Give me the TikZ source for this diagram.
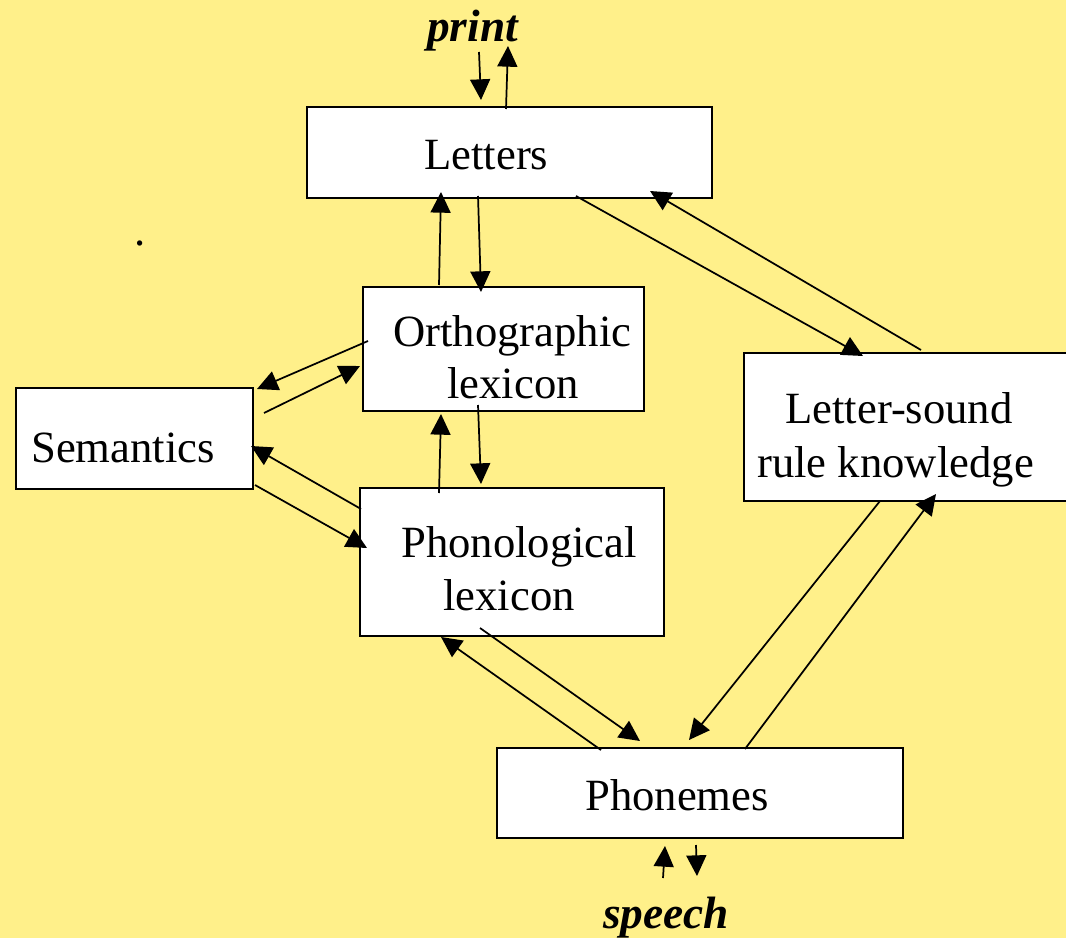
\documentclass[tikz,border=0pt]{standalone}
\usepackage{fontspec}
\setmainfont{Liberation Serif}
\usetikzlibrary{arrows.meta}
\definecolor{paper}{HTML}{FFF08A}
\tikzstyle{arr}=[-{Triangle[length=15.5pt,width=15pt]},line width=1.3pt]
\tikzstyle{box}=[draw,fill=white,line width=1.5pt,inner sep=0pt]
\tikzstyle{txt}=[anchor=base west,inner sep=0pt,font=\fontsize{33.5}{40}\selectfont]
\tikzstyle{io}=[anchor=base west,inner sep=0pt,font=\fontsize{34}{40}\selectfont\bfseries\itshape]

\begin{document}
\begin{tikzpicture}[x=0.75pt,y=-0.75pt]
  \useasboundingbox (0,0) rectangle (1066,938);
  \clip (0,0) rectangle (1066,938);
  \fill[paper] (0,0) rectangle (1066,938);

  % boxes
  \node[box,minimum width=303.75pt,minimum height=68.25pt] (letters) at (509.5,152.5) {};
  \node[box,minimum width=210.75pt,minimum height=93pt] (orth) at (503.5,349) {};
  \node[box,minimum width=177.75pt,minimum height=75.75pt] (sem) at (134.5,438.5) {};
  \node[box,minimum width=228pt,minimum height=111pt] (phon) at (512,562) {};
  \node[box,minimum width=255.75pt,minimum height=111pt] (lsr) at (914.5,427) {};
  \node[box,minimum width=304.5pt,minimum height=67.5pt] (phonemes) at (700,793) {};

  % texts
  \node[txt] (letterstxt) at (424,170) {Letters};
  \node[txt] (orthtop) at (393,346) {Orthographic};
  \node[txt] (orthbot) at (447,398) {lexicon};
  \node[txt] (semtxt) at (31,462) {Semantics};
  \node[txt] (phontop) at (401,557) {Phonological};
  \node[txt] (phonbot) at (443,610) {lexicon};
  \node[txt] (lsrtop) at (785,423) {Letter-sound};
  \node[txt] (lsrbot) at (757,477) {rule knowledge};
  \node[txt] (phonemestxt) at (585,810) {Phonemes};
  \node[txt] (dot) at (134,245) {.};
  \node[io] (print) at (427,42) {print};
  \node[io] (speech) at (603,928) {speech};

  % print <-> letters
  \draw[arr] ([shift={(173,-54)}]letters.north west) -- ([shift={(175,-6)}]letters.north west);
  \draw[arr] ([shift={(200,3)}]letters.north west) -- ([shift={(202,-60)}]letters.north west);
  % letters <-> orthographic lexicon
  \draw[arr] ([shift={(172,90)}]letters.north west) -- ([shift={(119,6)}]orth.north west);
  \draw[arr] ([shift={(77,-1)}]orth.north west) -- ([shift={(135,86)}]letters.north west);
  % letters <-> letter-sound rules
  \draw[arr] ([shift={(270,90)}]letters.north west) -- ([shift={(120,4)}]lsr.north west);
  \draw[arr] ([shift={(178,-2)}]lsr.north west) -- ([shift={(344,85)}]letters.north west);
  % orthographic lexicon <-> semantics
  \draw[arr] ([shift={(6,55)}]orth.north west) -- ([shift={(242,2)}]sem.north west);
  \draw[arr] ([shift={(249,26)}]sem.north west) -- ([shift={(-2,80)}]orth.north west);
  % orthographic lexicon <-> phonological lexicon
  \draw[arr] ([shift={(116,119)}]orth.north west) -- ([shift={(122,-3)}]phon.north west);
  \draw[arr] ([shift={(80,6)}]phon.north west) -- ([shift={(79,128)}]orth.north west);
  % phonological lexicon <-> semantics
  \draw[arr] ([shift={(2,22)}]phon.north west) -- ([shift={(236,59)}]sem.north west);
  \draw[arr] ([shift={(240,98)}]sem.north west) -- ([shift={(8,61)}]phon.north west);
  % phonological lexicon <-> phonemes
  \draw[arr] ([shift={(105,3)}]phonemes.north west) -- ([shift={(82,150)}]phon.north west);
  \draw[arr] ([shift={(121,141)}]phon.north west) -- ([shift={(144,-6)}]phonemes.north west);
  % letter-sound rules <-> phonemes
  \draw[arr] ([shift={(137,149)}]lsr.north west) -- ([shift={(193,-7)}]phonemes.north west);
  \draw[arr] ([shift={(249,2)}]phonemes.north west) -- ([shift={(193,142)}]lsr.north west);
  % phonemes <-> speech
  \draw[arr] ([shift={(167,131)}]phonemes.north west) -- ([shift={(169,99)}]phonemes.north west);
  \draw[arr] ([shift={(200,98)}]phonemes.north west) -- ([shift={(201,129)}]phonemes.north west);
\end{tikzpicture}
\end{document}
